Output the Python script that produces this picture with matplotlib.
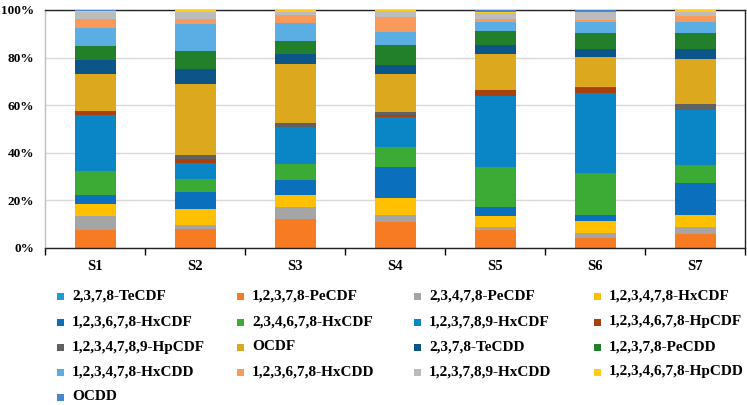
import matplotlib
matplotlib.use("Agg")
import matplotlib.pyplot as plt
from matplotlib.patches import Rectangle
import numpy as np

plt.rcParams['font.family'] = ['Liberation Serif', 'DejaVu Serif']
plt.rcParams['font.weight'] = 'bold'

samples = ["S1", "S2", "S3", "S4", "S5", "S6", "S7"]

congeners = [
    "2,3,7,8-TeCDF", "1,2,3,7,8-PeCDF", "2,3,4,7,8-PeCDF", "1,2,3,4,7,8-HxCDF",
    "1,2,3,6,7,8-HxCDF", "2,3,4,6,7,8-HxCDF", "1,2,3,7,8,9-HxCDF", "1,2,3,4,6,7,8-HpCDF",
    "1,2,3,4,7,8,9-HpCDF", "OCDF", "2,3,7,8-TeCDD", "1,2,3,7,8-PeCDD",
    "1,2,3,4,7,8-HxCDD", "1,2,3,6,7,8-HxCDD", "1,2,3,7,8,9-HxCDD", "1,2,3,4,6,7,8-HpCDD",
    "OCDD",
]

colors = [
    "#1E9AD6", "#F77B22", "#A5A5A5", "#FFC000",
    "#0A6FBC", "#3CAB36", "#0A86C6", "#A8410E",
    "#616161", "#DCA81E", "#0C5588", "#23802A",
    "#5BAEE3", "#F99A5C", "#BCBCBC", "#FFCC1A",
    "#4A86D0",
]

# percentage of each congener in each sample (S1..S7)
s1 = [0.3, 7.3, 5.7, 5.2, 3.9, 9.9, 23.4, 1.8, 0.2, 15.2, 6.1, 5.8, 7.8, 3.8, 2.7, 0.6, 0.3]
s2 = [0.3, 7.7, 1.8, 6.7, 6.9, 5.6, 6.6, 2.0, 1.3, 30.0, 6.2, 7.8, 11.1, 2.3, 2.8, 0.7, 0.2]
s3 = [0.3, 11.9, 5.1, 5.1, 6.3, 6.4, 15.7, 0.2, 1.7, 24.5, 4.2, 5.6, 7.7, 3.3, 1.0, 0.8, 0.2]
s4 = [0.3, 10.6, 3.1, 7.0, 12.9, 8.5, 12.7, 0.8, 1.2, 15.9, 4.0, 8.4, 5.2, 6.4, 2.5, 0.3, 0.2]
s5 = [0.3, 7.1, 1.5, 4.4, 3.8, 17.1, 29.8, 2.3, 0.2, 15.2, 3.6, 5.9, 3.7, 1.4, 2.6, 0.1, 1.0]
s6 = [0.3, 3.9, 2.1, 5.2, 2.2, 17.8, 33.5, 2.1, 0.5, 12.8, 3.2, 6.6, 4.6, 1.1, 3.1, 0.2, 0.8]
s7 = [0.3, 5.6, 2.8, 5.0, 13.6, 7.7, 22.8, 0.2, 2.4, 18.9, 4.2, 6.7, 4.9, 2.5, 1.4, 0.8, 0.2]

data = np.array([s1, s2, s3, s4, s5, s6, s7], dtype=float)  # samples x congeners
data = data / data.sum(axis=1, keepdims=True)

W, H = 747, 405
fig = plt.figure(figsize=(W / 100, H / 100), dpi=100)
ax = fig.add_axes([45 / W, 1 - 248 / H, 700 / W, 238 / H])

x = np.arange(len(samples))
bottom = np.zeros(len(samples))
for j, name in enumerate(congeners):
    ax.bar(x, data[:, j], bottom=bottom, width=0.41, color=colors[j],
           label=name, zorder=3, linewidth=0)
    bottom += data[:, j]

ax.set_xlim(-0.5, len(samples) - 0.5)
ax.set_ylim(0, 1)
ax.set_yticks(np.arange(0, 1.01, 0.2))
ax.set_yticklabels([f"{int(round(v * 100))}%" for v in np.arange(0, 1.01, 0.2)])
ax.set_xticks(x)
ax.set_xticklabels(samples)
ax.set_xticks(np.arange(-0.5, len(samples), 1.0), minor=True)
ax.tick_params(axis='x', which='major', length=0, pad=9, labelsize=10.5)
ax.tick_params(axis='x', which='minor', length=5, width=1, direction='out', color='black')
ax.tick_params(axis='y', which='major', length=0, pad=8, labelsize=9.5)
ax.grid(axis='y', color='#D9D9D9', linewidth=1, zorder=0)
for sp in ax.spines.values():
    sp.set_color('#222222')
    sp.set_linewidth(1)
ax.spines['left'].set_color('#BFBFBF')

# legend laid out row-wise, 4 columns
col_x = [57, 237, 414, 594]
row_y = [296, 322, 347, 372, 397]
for i, name in enumerate(congeners):
    r, c = divmod(i, 4)
    xm = col_x[c]
    ym = row_y[r]
    fig.patches.append(Rectangle(((xm) / W, 1 - (ym + 3.5) / H), 7 / W, 7 / H,
                                 transform=fig.transFigure, facecolor=colors[i],
                                 edgecolor='none'))
    fig.text((xm + 15) / W, 1 - ym / H, name, fontsize=11, fontweight='bold',
             va='center', ha='left')

fig.savefig("out.png", dpi=100)
